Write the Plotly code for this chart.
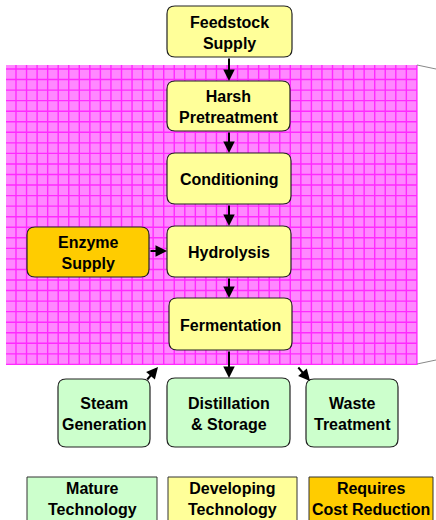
import plotly.graph_objects as go

# Diagram content
box_labels = ["Feedstock<br>Supply", "Harsh<br>Pretreatment", "Conditioning", "Hydrolysis",
              "Fermentation", "Enzyme<br>Supply", "Steam<br>Generation",
              "Distillation<br>& Storage", "Waste<br>Treatment"]
box_kind = ["dev", "dev", "dev", "dev", "dev", "cost", "mature", "mature", "mature"]
legend_labels = ["Mature<br>Technology", "Developing<br>Technology", "Requires<br>Cost Reduction"]
legend_kind = ["mature", "dev", "cost"]

# Layout geometry (x0, y0, x1, y1) in page pixels
box_geom = [(167, 6, 292, 57), (167, 81, 290, 131), (167, 153, 291, 204), (167, 226, 291, 277),
            (169, 298, 292, 350), (27, 227, 149, 277), (58, 379, 150, 447),
            (167, 378, 290, 447), (306, 379, 398, 447)]
legend_geom = [(27, 477, 157, 530), (168, 477, 297, 530), (309, 477, 433, 530)]
arrows = [((229, 57), (229, 81)), ((229, 131), (229, 153)), ((229, 204), (229, 226)),
          ((229, 277), (229, 298)), ((229, 350), (229, 378)), ((149, 251), (167, 251)),
          ((146, 381), (158, 367)), ((297, 366), (310, 381))]
colors = {"dev": "#FFFF99", "cost": "#FFCC00", "mature": "#CCFFCC"}

W, H = 436, 520
fig = go.Figure()
fig.add_trace(go.Scatter(x=[0, W], y=[0, H], mode="markers", marker=dict(opacity=0), hoverinfo="skip",
                         showlegend=False))
shapes = []
annotations = []

# pink grid area
px0, py0, px1, py1 = 6, 65, 417, 365
shapes.append(dict(type="rect", x0=px0, y0=py0, x1=px1, y1=py1, fillcolor="#FF88FF",
                   line=dict(width=0), layer="below"))
step = 10.55
x = 16.0
while x < px1:
    shapes.append(dict(type="line", x0=x, x1=x, y0=py0, y1=py1, line=dict(color="#FF2AFF", width=1.4),
                       layer="below"))
    x += step
y = 69.0
while y < py1:
    shapes.append(dict(type="line", x0=px0, x1=px1, y0=y, y1=y, line=dict(color="#FF2AFF", width=1.4),
                       layer="below"))
    y += step
# gray callout lines
shapes.append(dict(type="line", x0=417, y0=65, x1=436, y1=69, line=dict(color="#888888", width=1)))
shapes.append(dict(type="line", x0=417, y0=364, x1=436, y1=360, line=dict(color="#888888", width=1)))


def rounded(x0, y0, x1, y1, r):
    return (f"M{x0+r},{y0} L{x1-r},{y0} Q{x1},{y0} {x1},{y0+r} L{x1},{y1-r} Q{x1},{y1} {x1-r},{y1} "
            f"L{x0+r},{y1} Q{x0},{y1} {x0},{y1-r} L{x0},{y0+r} Q{x0},{y0} {x0+r},{y0} Z")


font = dict(family="Liberation Sans, Arial, sans-serif", size=16, color="#000000")
for lab, kind, (x0, y0, x1, y1) in zip(box_labels, box_kind, box_geom):
    shapes.append(dict(type="path", path=rounded(x0, y0, x1, y1, 8), fillcolor=colors[kind],
                       line=dict(color="#222222", width=1.2)))
    annotations.append(dict(x=(x0 + x1) / 2, y=(y0 + y1) / 2 + 1, text=f"<b>{lab}</b>", showarrow=False,
                            font=font, xref="x", yref="y"))
for lab, kind, (x0, y0, x1, y1) in zip(legend_labels, legend_kind, legend_geom):
    shapes.append(dict(type="rect", x0=x0, y0=y0, x1=x1, y1=y1, fillcolor=colors[kind],
                       line=dict(color="#333333", width=1)))
    annotations.append(dict(x=(x0 + x1) / 2, y=y0 + 22, text=f"<b>{lab}</b>", showarrow=False,
                            font=font, xref="x", yref="y"))
for (sx, sy), (ex, ey) in arrows:
    annotations.append(dict(x=ex, y=ey, ax=sx, ay=sy, xref="x", yref="y", axref="x", ayref="y",
                            showarrow=True, arrowhead=2, arrowsize=1.15, arrowwidth=2, arrowcolor="#000000",
                            text=""))

fig.update_layout(width=W, height=H, margin=dict(l=0, r=0, t=0, b=0), paper_bgcolor="white",
                  plot_bgcolor="white", shapes=shapes, annotations=annotations, showlegend=False,
                  xaxis=dict(range=[0, W], visible=False, fixedrange=True),
                  yaxis=dict(range=[H, 0], visible=False, fixedrange=True))
fig.write_html("out.html", config={"displayModeBar": False},
               post_script="document.body.style.margin='0';document.body.style.overflow='hidden';")
